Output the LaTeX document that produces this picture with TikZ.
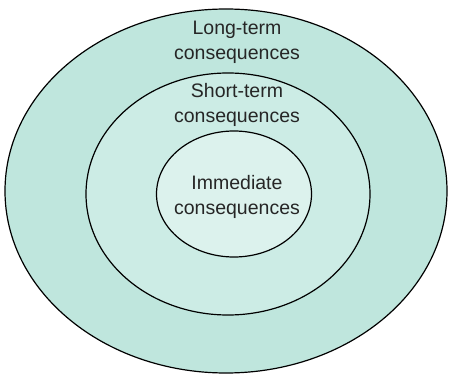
\documentclass[tikz,border=0pt]{standalone}
\usepackage{fontspec}
\setmainfont{Liberation Sans}
\usepackage{tikz}
\usetikzlibrary{shapes.geometric,positioning}
\definecolor{outerteal}{HTML}{BFE6DD}
\definecolor{midteal}{HTML}{CCECE5}
\definecolor{innerteal}{HTML}{DCF2ED}
\tikzset{
  ring/.style={draw, ellipse, line width=1.2pt, inner sep=0pt},
  ringlabel/.style={align=center, inner sep=0pt, font=\fontsize{19.5}{25}\selectfont, text=black!85}
}

\begin{document}
\begin{tikzpicture}[x=1pt, y=-1pt]
    \useasboundingbox (0,0) rectangle (457,374);
    \fill[white] (0,0) rectangle (457,374);
    \node[ring, fill=outerteal, minimum width=442pt, minimum height=364pt] (longring) at (226,191) {};
    \node[ring, fill=midteal, minimum width=284pt, minimum height=242pt] (shortring) at (228,194) {};
    \node[ring, fill=innerteal, minimum width=155pt, minimum height=126pt] (nowring) at (234,194) {};

    \node[ringlabel] (longtext) at (237,42) {Long-term\\consequences};
    \node[ringlabel] (shorttext) at (237,105) {Short-term\\consequences};
    \node[ringlabel] (nowtext) at (237,197) {Immediate\\consequences};
  \end{tikzpicture}
\end{document}
